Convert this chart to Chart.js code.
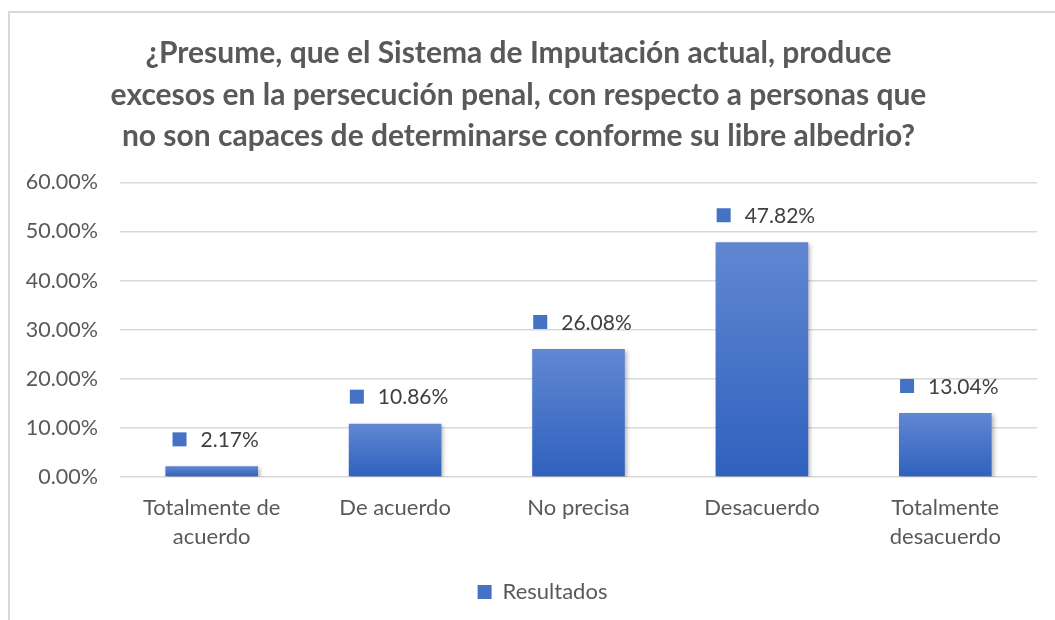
<!DOCTYPE html>
<html>
<head>
<meta charset="utf-8">
<script src="https://cdn.jsdelivr.net/npm/chart.js@4/dist/chart.umd.min.js"></script>
<style>
  html, body { margin: 0; padding: 0; background: #fff; }
  #wrap { position: relative; width: 1055px; height: 620px; overflow: hidden; }
  #frame { position: absolute; left: 8px; top: 11px; width: 1100px; height: 700px;
           border-left: 2px solid #d9d9d9; border-top: 2px solid #d9d9d9; }
  canvas { position: absolute; left: 0; top: 0; }
</style>
</head>
<body>
<div id="wrap">
  <div id="frame"></div>
  <canvas id="chart" width="1055" height="620"></canvas>
</div>
<script>
/* ---------- data ---------- */
const CATEGORIES = [["Totalmente de", "acuerdo"], "De acuerdo", "No precisa",
                    "Desacuerdo", ["Totalmente", "desacuerdo"]];
const VALUES = [2.17, 10.86, 26.08, 47.82, 13.04];
const SERIES_NAME = "Resultados";
const TITLE_LINES = [
  "¿Presume, que el Sistema de Imputación actual, produce",
  "excesos en la persecución penal, con respecto a personas que",
  "no son capaces de determinarse conforme su libre albedrio?",
];
const Y_MAX = 60, Y_STEP = 10;

const FONT = "Lato, 'Open Sans', sans-serif";
const C = { text: "#595959", label: "#404040", grid: "#d9d9d9",
            barTop: "#6187d2", barBottom: "#2f61be", key: "#4472c4" };

/* ---------- bar gradient ---------- */
function barFill(ctx) {
  const chart = ctx.chart;
  const y = chart.scales.y;
  if (!y || ctx.parsed == null) return C.key;
  const top = y.getPixelForValue(ctx.parsed.y);
  const base = y.getPixelForValue(0);
  const g = chart.ctx.createLinearGradient(0, top, 0, base);
  g.addColorStop(0, C.barTop);
  g.addColorStop(1, C.barBottom);
  return g;
}

/* ---------- soft shadow under bars ---------- */
const barShadow = {
  id: "barShadow",
  beforeDatasetsDraw(chart) {
    const c = chart.ctx;
    c.save();
    c.shadowColor = "rgba(0,0,0,0.28)";
    c.shadowBlur = 4;
    c.shadowOffsetX = 2;
    c.shadowOffsetY = 2;
  },
  afterDatasetsDraw(chart) { chart.ctx.restore(); },
};

/* ---------- value labels with legend key ---------- */
const valueLabels = {
  id: "valueLabels",
  afterDatasetsDraw(chart) {
    const c = chart.ctx;
    const meta = chart.getDatasetMeta(0);
    c.save();
    c.font = `21px ${FONT}`;
    c.textBaseline = "middle";
    meta.data.forEach((bar, i) => {
      const txt = VALUES[i].toFixed(2) + "%";
      const tw = c.measureText(txt).width;
      const sq = 14, gap = 14;
      const total = sq + gap + tw;
      const x0 = bar.x + 4 - total / 2;
      const cy = bar.y - 27;
      c.fillStyle = C.key;
      c.fillRect(x0, cy - sq / 2, sq, sq);
      c.fillStyle = C.label;
      c.textAlign = "left";
      c.fillText(txt, x0 + sq + gap, cy + 1);
    });
    c.restore();
  },
};

/* legend sits a little right of the canvas centre in the original */
const legendShift = {
  id: "legendShift",
  afterLayout(chart) {
    chart.legend.left += 24;
    chart.legend.right += 24;
  },
};

new Chart(document.getElementById("chart"), {
  type: "bar",
  data: {
    labels: CATEGORIES,
    datasets: [{
      label: SERIES_NAME,
      data: VALUES,
      backgroundColor: barFill,
      borderWidth: 0,
      categoryPercentage: 0.505,
      barPercentage: 1,
    }],
  },
  options: {
    responsive: false,
    animation: false,
    devicePixelRatio: 1,
    layout: { padding: { left: 0, right: 18, top: 0, bottom: 7 } },
    plugins: {
      title: {
        display: true,
        text: TITLE_LINES,
        color: C.text,
        font: { family: FONT, size: 30, weight: "bold", lineHeight: 1.383 },
        padding: { top: 33, bottom: 25 },
      },
      legend: {
        position: "bottom",
        labels: {
          boxWidth: 14, boxHeight: 14, padding: 9,
          color: C.text, font: { family: FONT, size: 22 },
          generateLabels: () => [{
            text: SERIES_NAME, fillStyle: C.key, strokeStyle: C.key,
            lineWidth: 0, fontColor: C.text, datasetIndex: 0,
          }],
        },
      },
      tooltip: { enabled: false },
    },
    scales: {
      x: {
        grid: { display: false, drawTicks: false },
        border: { display: false },
        ticks: {
          color: C.text, padding: 16, maxRotation: 0, autoSkip: false,
          font: { family: FONT, size: 22, lineHeight: 1.32 },
        },
        afterFit: (s) => { s.height = 95; },
      },
      y: {
        min: 0, max: Y_MAX,
        grid: { color: C.grid, lineWidth: 1.5, drawTicks: false },
        border: { display: false },
        ticks: {
          stepSize: Y_STEP, color: C.text, padding: 22,
          font: { family: FONT, size: 21.5 },
          callback: (v) => v.toFixed(2) + "%",
        },
        afterFit: (s) => { s.width = 120; },
      },
    },
  },
  plugins: [barShadow, valueLabels, legendShift],
});
</script>
</body>
</html>
